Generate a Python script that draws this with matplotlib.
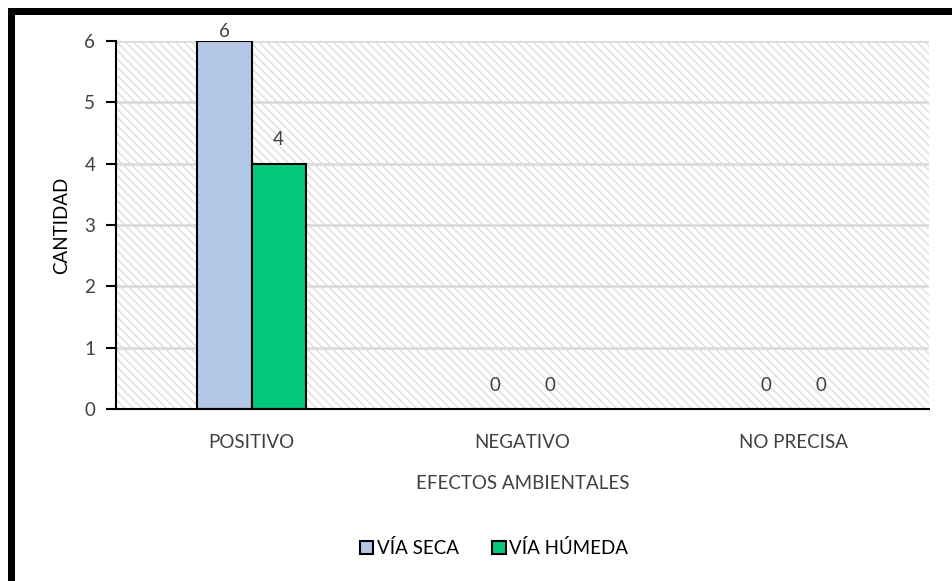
import matplotlib.pyplot as plt
from matplotlib.patches import Rectangle, Patch

# datos del grafico
categorias = ['POSITIVO', 'NEGATIVO', 'NO PRECISA']
via_seca = [6, 0, 0]
via_humeda = [4, 0, 0]
series = ['VÍA SECA', 'VÍA HÚMEDA']
colores = ['#B4C7E7', '#05C97A']

plt.rcParams['font.family'] = ['Lato', 'DejaVu Sans']
fs = 13.5

fig = plt.figure(figsize=(9.52, 5.81), dpi=100)
ax = fig.add_axes([116/952, 1 - 409/581, 813/952, 368/581])

# fondo rayado del area de trazado
ax.add_patch(Rectangle((0, 0), 1, 1, transform=ax.transAxes, facecolor='white',
                       edgecolor='#DEDEDE', hatch='\\\\\\\\', linewidth=0, zorder=0))
for y in range(1, 7):
    ax.axhline(y, color='#D9D9D9', linewidth=1.8, zorder=1)

ancho = 0.2
x = list(range(len(categorias)))
for i, (vals, nombre, c) in enumerate(zip([via_seca, via_humeda], series, colores)):
    pos = [k + (i - 0.5) * ancho for k in x]
    ax.bar(pos, vals, width=ancho, color=c, edgecolor='black', linewidth=1.5,
           label=nombre, zorder=3)
    for p, v in zip(pos, vals):
        off = 1 if v == 6 else 11
        ax.annotate(str(v), (p, v), xytext=(0, off), textcoords='offset points',
                    ha='center', va='bottom', fontsize=fs, color='#404040')

ax.set_xlim(-0.5, 2.5)
ax.set_ylim(0, 6)
ax.set_xticks(x)
ax.set_xticklabels(categorias, fontsize=fs, color='#404040')
ax.tick_params(axis='x', length=0, pad=18)
ax.tick_params(axis='y', length=7, width=1.5, labelsize=fs, labelcolor='#404040', pad=8)
ax.set_yticks(range(0, 7))
for s in ['top', 'right']:
    ax.spines[s].set_visible(False)
ax.spines['left'].set_linewidth(1.5)
ax.spines['bottom'].set_linewidth(1.5)
ax.spines['left'].set_zorder(4)
ax.spines['bottom'].set_zorder(4)

ax.set_ylabel('CANTIDAD', fontsize=fs, color='black', labelpad=10)
ax.set_xlabel('EFECTOS AMBIENTALES', fontsize=fs, color='#404040', labelpad=17)

handles = [Patch(facecolor=c, edgecolor='black', linewidth=1.5) for c in colores]
fig.legend(handles, series, loc='center', bbox_to_anchor=(494/952, 1 - 548/581),
           ncol=2, frameon=False, fontsize=fs, handlelength=0.7, handleheight=0.7,
           handletextpad=0.2, columnspacing=1.8)

# marco negro superior e izquierdo
fig.add_artist(Rectangle((8/952, 0), 7/952, 1 - 8/581, transform=fig.transFigure,
                         facecolor='black', edgecolor='none'))
fig.add_artist(Rectangle((8/952, 1 - 15/581), 1, 7/581, transform=fig.transFigure,
                         facecolor='black', edgecolor='none'))

fig.savefig('out.png', dpi=100)
